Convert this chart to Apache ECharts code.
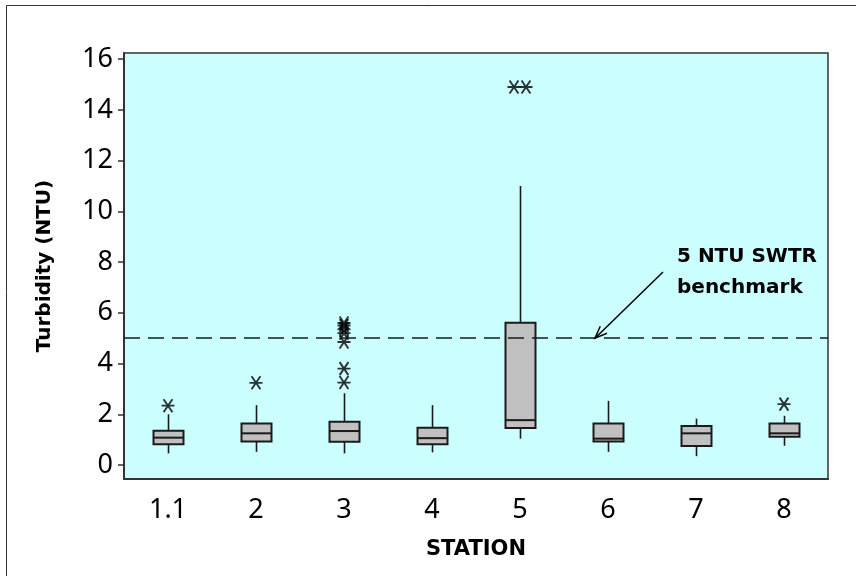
<!DOCTYPE html>
<html>
<head>
<meta charset="utf-8">
<script src="https://cdn.jsdelivr.net/npm/echarts@6/dist/echarts.min.js"></script>
<style>
  html, body { margin: 0; padding: 0; background: #ffffff; }
  #chart { width: 856px; height: 576px; }
</style>
</head>
<body>
<div id="chart"></div>
<script>
// Turbidity by sampling station: box summaries and individual outliers
const stations = ['1.1', '2', '3', '4', '5', '6', '7', '8'];
const whiskerLow  = [0.46, 0.52, 0.46, 0.50, 1.04, 0.52, 0.35, 0.76];
const quartile1   = [0.82, 0.93, 0.92, 0.82, 1.46, 0.93, 0.75, 1.12];
const medians     = [1.08, 1.25, 1.34, 1.06, 1.77, 1.04, 1.25, 1.25];
const quartile3   = [1.35, 1.64, 1.71, 1.47, 5.61, 1.64, 1.54, 1.64];
const whiskerHigh = [2.00, 2.36, 2.83, 2.36, 11.0, 2.53, 1.83, 1.94];

const outlierStations = ['1.1', '2', '3', '3', '3', '3', '3', '3', '3', '5', '5', '8'];
const outlierValues   = [2.34, 3.24, 3.25, 3.80, 4.85, 5.20, 5.35, 5.50, 5.60, 14.9, 14.9, 2.40];

const yTicks = [0, 2, 4, 6, 8, 10, 12, 14, 16];
const benchmark = 5;
const benchmarkText = ['5 NTU SWTR', 'benchmark'];

const INK = '#1a1a1a';
const tickFont = '"Noto Sans", "Liberation Sans", sans-serif';
const boldFont = '"DejaVu Sans", "Liberation Sans", sans-serif';

// Box rows: [category index, low whisker, Q1, median, Q3, high whisker]
const boxRows = stations.map((s, i) => [i, whiskerLow[i], quartile1[i], medians[i], quartile3[i], whiskerHigh[i]]);

// Tied outliers at the same station sit side by side
const seen = {};
const outlierPoints = outlierStations.map((s, i) => {
  const key = s + '|' + outlierValues[i];
  seen[key] = (seen[key] || 0) + 1;
  return { key, value: [stations.indexOf(s), outlierValues[i]] };
});
const used = {};
outlierPoints.forEach(p => {
  const n = seen[p.key];
  if (n > 1) {
    const k = used[p.key] || 0;
    used[p.key] = k + 1;
    p.symbolOffset = [(k - (n - 1) / 2) * 12, 0];
  }
  delete p.key;
});

const asterisk = 'path://M0,5L10,5M1.6,0.6L8.4,9.4M8.4,0.6L1.6,9.4';

const chart = echarts.init(document.getElementById('chart'), null, { renderer: 'canvas' });

chart.setOption({
  animation: false,
  backgroundColor: '#ffffff',
  grid: {
    left: 124, top: 53, width: 704, height: 426,
    show: true, backgroundColor: '#ccffff',
    borderColor: '#333333', borderWidth: 1.5
  },
  xAxis: {
    type: 'category',
    data: stations,
    boundaryGap: true,
    axisLine: { onZero: false, lineStyle: { color: '#333333', width: 2 } },
    axisTick: { alignWithLabel: true, length: 7, lineStyle: { color: '#333333', width: 2 } },
    axisLabel: { color: '#000', fontFamily: tickFont, fontSize: 27, margin: 18 },
    splitLine: { show: false },
    name: 'STATION',
    nameLocation: 'middle',
    nameGap: 60,
    nameTextStyle: { color: '#000', fontFamily: boldFont, fontWeight: 'bold', fontSize: 21 }
  },
  yAxis: {
    type: 'value',
    min: -0.55,
    max: 16.24,
    axisLine: { show: true, lineStyle: { color: '#333333', width: 2 } },
    axisTick: { show: true, length: 6, customValues: yTicks, lineStyle: { color: '#333333', width: 1.5 } },
    axisLabel: { color: '#000', fontFamily: tickFont, fontSize: 27, margin: 11, customValues: yTicks },
    splitLine: { show: false },
    name: 'Turbidity (NTU)',
    nameLocation: 'middle',
    nameGap: 69,
    nameTextStyle: { color: '#000', fontFamily: boldFont, fontWeight: 'bold', fontSize: 20 }
  },
  series: [
    {
      type: 'custom',
      name: 'Turbidity',
      data: boxRows,
      encode: { x: 0, y: [1, 2, 3, 4, 5] },
      z: 3,
      renderItem(params, api) {
        const idx = api.value(0);
        const lo = api.coord([idx, api.value(1)]);
        const b1 = api.coord([idx, api.value(2)]);
        const md = api.coord([idx, api.value(3)]);
        const b3 = api.coord([idx, api.value(4)]);
        const hi = api.coord([idx, api.value(5)]);
        const x = Math.round(lo[0]) + 0.5;
        const hw = 15;
        const wStyle = { stroke: INK, lineWidth: 1.6 };
        return {
          type: 'group',
          children: [
            { type: 'line', shape: { x1: x, y1: hi[1], x2: x, y2: b3[1] }, style: wStyle },
            { type: 'line', shape: { x1: x, y1: b1[1], x2: x, y2: lo[1] }, style: wStyle },
            { type: 'rect', shape: { x: x - hw, y: b3[1], width: 2 * hw, height: b1[1] - b3[1] },
              style: { fill: '#c0c0c0', stroke: INK, lineWidth: 2 } },
            { type: 'line', shape: { x1: x - hw, y1: md[1], x2: x + hw, y2: md[1] },
              style: { stroke: INK, lineWidth: 2 } }
          ]
        };
      },
      markLine: {
        silent: true,
        symbol: ['none', 'none'],
        label: { show: false },
        lineStyle: { color: INK, width: 1.5, type: [16, 8] },
        data: [{ yAxis: benchmark }]
      }
    },
    {
      type: 'scatter',
      name: 'Outliers',
      data: outlierPoints,
      symbol: asterisk,
      symbolSize: 13,
      z: 4,
      itemStyle: { color: 'none', borderColor: '#000', borderWidth: 1.9 }
    }
  ]
});

// Benchmark annotation with an arrow pointing at the dashed line
const yLine = chart.convertToPixel({ yAxisIndex: 0 }, benchmark);
const start = [663, 272];
const end = [595, yLine];
const ang = Math.atan2(end[1] - start[1], end[0] - start[0]);
const headLen = 13, spread = 0.38;
const headA = [end[0] - headLen * Math.cos(ang - spread), end[1] - headLen * Math.sin(ang - spread)];
const headB = [end[0] - headLen * Math.cos(ang + spread), end[1] - headLen * Math.sin(ang + spread)];

chart.setOption({
  graphic: [
    {
      type: 'rect', silent: true, z: 100,
      shape: { x: 6.5, y: 5.5, width: 880, height: 620 },
      style: { fill: 'none', stroke: '#333333', lineWidth: 1 }
    },
    {
      type: 'line', silent: true, z: 100,
      shape: { x1: start[0], y1: start[1], x2: end[0], y2: end[1] },
      style: { stroke: '#000', lineWidth: 1.5 }
    },
    {
      type: 'polyline', silent: true, z: 100,
      shape: { points: [headA, end, headB] },
      style: { stroke: '#000', lineWidth: 1.5, fill: 'none' }
    },
    {
      type: 'text', silent: true, z: 100, x: 677, y: 257,
      style: { text: benchmarkText[0], fill: '#000', font: 'bold 20px ' + boldFont, textVerticalAlign: 'middle', verticalAlign: 'middle' }
    },
    {
      type: 'text', silent: true, z: 100, x: 677, y: 288,
      style: { text: benchmarkText[1], fill: '#000', font: 'bold 20px ' + boldFont, textVerticalAlign: 'middle', verticalAlign: 'middle' }
    }
  ]
});
</script>
</body>
</html>
